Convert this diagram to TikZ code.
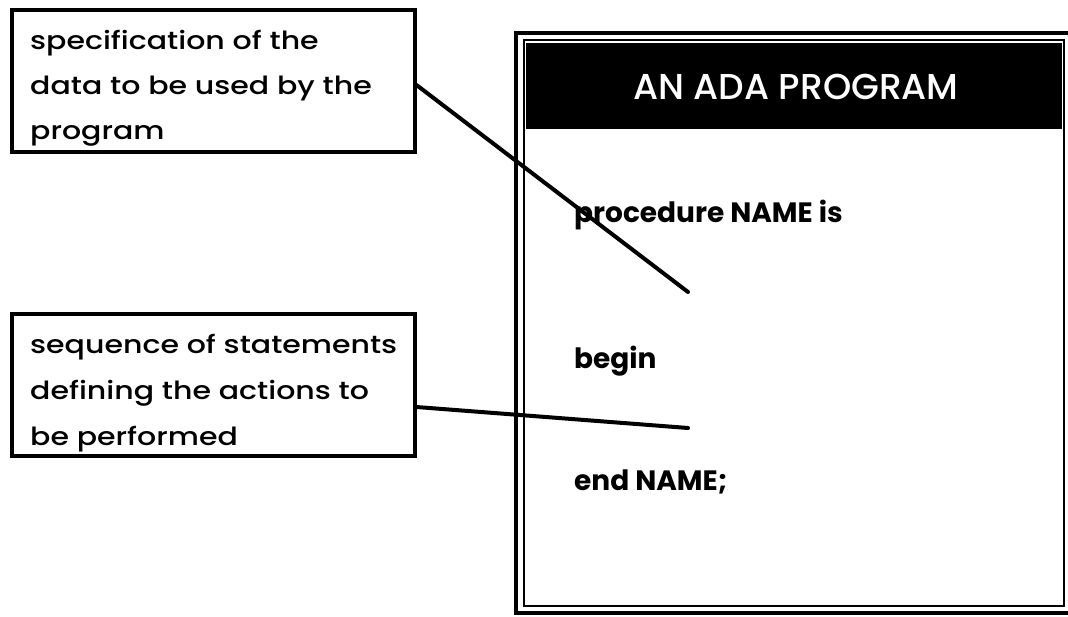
\documentclass[tikz,border=0pt]{standalone}
\usepackage{fontspec}
\setmainfont{Poppins}
\newfontfamily\notefont{Poppins Medium}[FakeStretch=1.2]
\newfontfamily\titlefont{Poppins Medium}
\begin{document}
\begin{tikzpicture}[x=1pt,y=-1pt,
  note/.style={draw=black,line width=3.5pt,minimum width=403pt,minimum height=142pt,anchor=north west,inner sep=0pt},
  notetext/.style={anchor=north west,align=left,inner sep=0pt,font=\notefont\fontsize{25}{#1}\selectfont},
  code/.style={anchor=base west,inner sep=0pt,font=\fontsize{28}{32}\selectfont\bfseries},
  leader/.style={line width=4pt,line cap=round}]
\useasboundingbox (0,0) rectangle (1068,616);

% program frame: thick outer border, thin inner border, black title band
\draw[line width=4pt] (516,33) rectangle (1078,613);
\draw[line width=2.2pt] (524,40) rectangle (1064,606);
\fill[black] (526,43) rectangle (1062,129);
\node[text=white,font=\titlefont\fontsize{36}{40}\selectfont] (title) at (796,87) {AN ADA PROGRAM};

\node[code] (proc) at (574,222) {procedure NAME is};
\node[code] (begin) at (574,368) {begin};
\node[code] (endn) at (574,490) {end NAME;};
\coordinate (decl) at (688,292);
\coordinate (stmts) at (688,428);

% explanatory notes
\node[note] (spec) at (10,8) {};
\node[notetext=45] (spectext) at (30,30) {specification of the\\data to be used by the\\program};
\node[note] (seq) at (10,312) {};
\node[notetext=46] (seqtext) at (30,333.5) {sequence of statements\\defining the actions to\\be performed};

\draw[leader] (spec.east |- 0,85) -- (decl);
\draw[leader] (seq.east |- 0,407) -- (stmts);
\end{tikzpicture}
\end{document}
